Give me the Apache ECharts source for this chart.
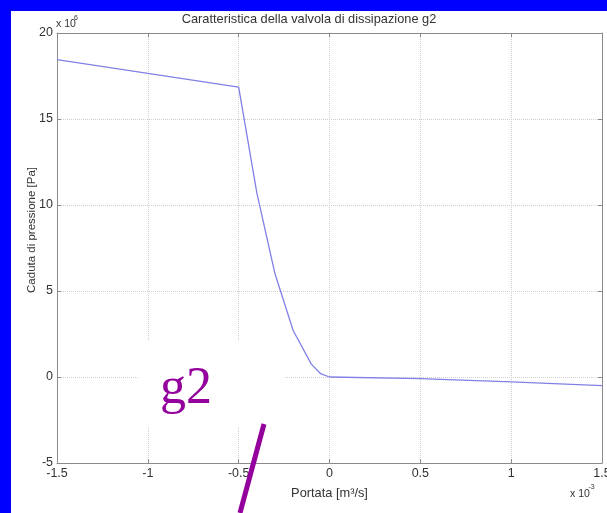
<!DOCTYPE html>
<html><head><meta charset="utf-8">
<script src="https://cdn.jsdelivr.net/npm/echarts@6/dist/echarts.min.js"></script>
<style>
html,body{margin:0;padding:0;width:607px;height:513px;background:#0000FE;overflow:hidden}
#c{position:absolute;left:11px;top:11px;width:596px;height:502px;background:#fff}
</style></head><body><div id="c"></div>
<script>
// Portata in units of 1e-3 m^3/s, caduta di pressione in units of 1e6 Pa
const flowX = [-1.5, -0.5, -0.4, -0.3, -0.2, -0.1, -0.05, 0, 0.5, 1.0, 1.5];
const pressureY = [18.45, 16.85, 10.7, 6.0, 2.7, 0.75, 0.2, 0, -0.1, -0.28, -0.5];
const xRange = [-1.5, 1.5, 0.5];
const yRange = [-5, 20, 5];
const titleText = 'Caratteristica della valvola di dissipazione g2';
const yName = 'Caduta di pressione [Pa]';
const xName = 'Portata [m\u00b3/s]';

const font = '"Liberation Sans", Arial, sans-serif';
const chart = echarts.init(document.getElementById('c'));
const axisCol = '#8a8a8a';
const labelStyle = {color: '#333', fontSize: 12.5, fontFamily: font};
const gridStyle = {show: true, lineStyle: {color: '#cfcfcf', type: 'dotted', width: 1}};
chart.setOption({
  animation: false,
  title: {text: titleText, left: 'center', top: 2, padding: 0,
    textStyle: {color: '#333', fontSize: 12.8, fontWeight: 'normal', fontFamily: font}},
  grid: {left: 46, top: 22, width: 545, height: 430, outerBoundsMode: 'none', containLabel: false},
  xAxis: [{
    type: 'value', min: xRange[0], max: xRange[1], interval: xRange[2], position: 'bottom',
    axisLine: {onZero: false, lineStyle: {color: axisCol}},
    axisTick: {inside: true, length: 4, lineStyle: {color: axisCol}},
    axisLabel: Object.assign({margin: 4}, labelStyle),
    splitLine: gridStyle,
    name: xName, nameLocation: 'middle', nameGap: 23.5,
    nameTextStyle: {color: '#333', fontSize: 12.8, fontFamily: font}
  }, {
    type: 'value', min: xRange[0], max: xRange[1], interval: xRange[2], position: 'top',
    axisLine: {onZero: false, lineStyle: {color: axisCol}},
    axisTick: {inside: true, length: 4, lineStyle: {color: axisCol}},
    axisLabel: {show: false}, splitLine: {show: false}
  }],
  yAxis: [{
    type: 'value', min: yRange[0], max: yRange[1], interval: yRange[2], position: 'left',
    axisLine: {onZero: false, show: true, lineStyle: {color: axisCol}},
    axisTick: {show: true, inside: true, length: 4, lineStyle: {color: axisCol}},
    axisLabel: Object.assign({margin: 4}, labelStyle),
    splitLine: gridStyle
  }, {
    type: 'value', min: yRange[0], max: yRange[1], interval: yRange[2], position: 'right',
    axisLine: {onZero: false, show: true, lineStyle: {color: axisCol}},
    axisTick: {show: true, inside: true, length: 4, lineStyle: {color: axisCol}},
    axisLabel: {show: false}, splitLine: {show: false}
  }],
  series: [{
    type: 'line', xAxisIndex: 0, yAxisIndex: 0,
    data: flowX.map((x, i) => [x, pressureY[i]]),
    showSymbol: false, smooth: false,
    lineStyle: {color: '#8080E6', width: 1.3}
  }],
  graphic: [
    {type: 'text', x: 21, y: 219, rotation: Math.PI / 2, z: 100,
      style: {text: yName, font: '11.5px ' + font, fill: '#333', textAlign: 'center', textVerticalAlign: 'middle'}},
    {type: 'text', x: 45, y: 13.5, z: 100,
      style: {text: 'x 10', font: '10.5px ' + font, fill: '#333', textAlign: 'left', textVerticalAlign: 'middle'}},
    {type: 'text', x: 63, y: 7, z: 100,
      style: {text: '6', font: '7px ' + font, fill: '#333', textAlign: 'left', textVerticalAlign: 'middle'}},
    {type: 'text', x: 559, y: 483, z: 100,
      style: {text: 'x 10', font: '10.5px ' + font, fill: '#333', textAlign: 'left', textVerticalAlign: 'middle'}},
    {type: 'text', x: 577.5, y: 476.5, z: 100,
      style: {text: '-3', font: '7px ' + font, fill: '#333', textAlign: 'left', textVerticalAlign: 'middle'}},
    {type: 'rect', z: 100, shape: {x: 127, y: 329, width: 147, height: 87},
      style: {fill: '#fff'}},
    {type: 'text', z: 101, x: 149, y: 352.5,
      style: {text: 'g2', font: '52px "Liberation Serif", "Times New Roman", serif',
        fill: '#93009B'}},
    {type: 'line', z: 101, shape: {x1: 253, y1: 413, x2: 229, y2: 502},
      style: {stroke: '#93009B', lineWidth: 5}}
  ]
});
</script></body></html>
